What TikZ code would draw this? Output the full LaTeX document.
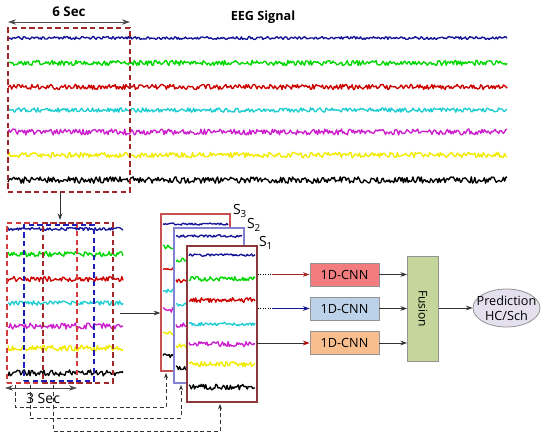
\documentclass[tikz,border=0pt]{standalone}
\usepackage{fontspec}
\setmainfont{Open Sans}
\usetikzlibrary{arrows.meta,calc,shapes.geometric}
\definecolor{eblue}{RGB}{20,20,150}
\definecolor{egreen}{RGB}{0,215,0}
\definecolor{ered}{RGB}{205,0,0}
\definecolor{ecyan}{RGB}{30,205,210}
\definecolor{emag}{RGB}{205,30,205}
\definecolor{eyel}{RGB}{240,235,0}
\definecolor{winred}{RGB}{160,40,40}
\definecolor{lred}{RGB}{210,60,60}
\definecolor{lblue}{RGB}{30,30,180}
\definecolor{sthree}{RGB}{200,80,80}
\definecolor{stwo}{RGB}{130,130,210}
\definecolor{sone}{RGB}{140,55,60}
\definecolor{cnnA}{RGB}{242,124,126}
\definecolor{cnnB}{RGB}{188,210,232}
\definecolor{cnnC}{RGB}{248,190,142}
\definecolor{fusfill}{RGB}{196,214,155}
\definecolor{predfill}{RGB}{229,224,238}
\begin{document}
\begin{tikzpicture}[x=0.75pt,y=-0.75pt,
  tr/.style={line width=1pt, line join=round},
  arr/.style={-{Stealth[length=5pt,width=3.5pt]}, line width=0.6pt, black!80},
  dbl/.style={{Stealth[length=6pt,width=4pt]}-{Stealth[length=6pt,width=4pt]}, line width=0.5pt, black!70},
  cnnbox/.style={draw=gray!85, line width=0.6pt, minimum width=51.75pt, minimum height=17.25pt, inner sep=0pt, font=\fontsize{9.5}{11}\selectfont},
  dashconn/.style={dash pattern=on 3pt off 2pt, line width=0.6pt, gray!40!black},
  winbox/.style={dash pattern=on 4pt off 2.5pt, line width=0.9pt},
  sbox/.style={fill=white, line width=0.9pt, inner sep=0pt},
  slabel/.style={font=\fontsize{10.5}{12}\selectfont, inner sep=0pt}]
\useasboundingbox (0,0) rectangle (550,437);
\pgfmathsetseed{4711}
% ---------------- full EEG signal
\foreach \c/\yy/\a in {eblue/38/1.5, egreen/63/2.6, ered/87/2.6, ecyan/110/2.2, emag/132/3.0, eyel/155/2.8, black/180/3.2}{
  \draw[\c,tr] plot[domain=8:507, samples=420] (\x,{\yy+\a*rand});
}
\node[font=\bfseries\fontsize{9.5}{12}\selectfont] (eeg) at (263,17) {EEG Signal};
\node[draw=winred, winbox, minimum width=91.5pt, minimum height=123pt, inner sep=0pt] (win6) at (69,110) {};
\coordinate (sixL) at (8,22);
\coordinate (sixR) at (130,22);
\draw[dbl] (sixL) -- (sixR);
\node[font=\bfseries\fontsize{10}{12}\selectfont] (six) at (69,12) {6 Sec};
\coordinate (dn) at (60,193);
\coordinate (dnE) at (60,220);
\draw[arr] (dn) -- (dnE);
% ---------------- 6 s segment with 3 s windows
\foreach \c/\yy/\a in {eblue/229/1.5, egreen/254/2.6, ered/279/2.6, ecyan/303/2.2, emag/326/3.0, eyel/348/2.8, black/373/3.2}{
  \draw[\c,tr] plot[domain=8:123, samples=100] (\x,{\yy+\a*rand});
}
\node[draw=lred, winbox, minimum width=52.5pt, minimum height=120pt, inner sep=0pt] (w1) at (42,303) {};
\node[draw=lblue, winbox, minimum width=52.5pt, minimum height=117pt, inner sep=0pt] (w2) at (59,303) {};
\node[draw=winred, winbox, minimum width=52.5pt, minimum height=120pt, inner sep=0pt] (w3) at (78,303) {};
\coordinate (thrL) at (5,388);
\coordinate (thrR) at (77,388);
\draw[dbl] (thrL) -- (thrR);
\node[font=\fontsize{10.5}{12}\selectfont] (three) at (43,398) {3 Sec};
% ---------------- stacked segments
\node[draw=sthree, sbox, minimum width=51.75pt, minimum height=117.75pt] (s3) at (195.5,292.5) {};
\foreach \c/\yy/\a in {eblue/224/1.2, egreen/247/2.0, ered/269/2.0, ecyan/291/1.8, emag/310/2.4, eyel/333/2.2, black/356/2.4}{
  \draw[\c,tr] plot[domain=163:228, samples=55] (\x,{\yy+\a*rand});
}
\node[draw=stwo, sbox, minimum width=52.5pt, minimum height=116.25pt] (s2) at (209,305.5) {};
\foreach \c/\yy/\a in {eblue/236/1.2, egreen/260/2.0, ered/281/2.0, ecyan/305/1.8, emag/325/2.4, eyel/346/2.2, black/368/2.4}{
  \draw[\c,tr] plot[domain=176:242, samples=55] (\x,{\yy+\a*rand});
}
\node[draw=sone, sbox, minimum width=52.5pt, minimum height=117pt] (s1) at (222,324) {};
\foreach \c/\yy/\a in {eblue/255/1.2, egreen/279/2.4, ered/300/2.4, ecyan/324/1.8, emag/344/2.6, eyel/364/2.8, black/387/2.8}{
  \draw[\c,tr] plot[domain=189:255, samples=60] (\x,{\yy+\a*rand});
}
\node[slabel] (l3) at (240,211) {S\textsubscript{3}};
\node[slabel] (l2) at (254,225) {S\textsubscript{2}};
\node[slabel] (l1) at (266,243) {S\textsubscript{1}};
\coordinate (pl) at (120,313);
\draw[arr] (pl) -- (s3.west |- pl);
% ---------------- dashed feedback connectors
\coordinate (a1) at (15,385);
\coordinate (e1) at (166,373);
\coordinate (a2) at (30,385);
\coordinate (e2) at (181,385);
\coordinate (a3) at (53,385);
\coordinate (e3) at (220,404);
\draw[dashconn, -{Stealth[length=4pt,width=3pt]}] (a1) -- ++(0,22) -| (e1);
\draw[dashconn, -{Stealth[length=4pt,width=3pt]}] (a2) -- ++(0,33) -| (e2);
\draw[dashconn, -{Stealth[length=4pt,width=3pt]}] (a3) -- ++(0,46) -| (e3);
% ---------------- CNN branches
\node[cnnbox, fill=cnnA] (c1) at (344.5,274.5) {1D-CNN};
\node[cnnbox, fill=cnnB] (c2) at (344.5,308.5) {1D-CNN};
\node[cnnbox, fill=cnnC] (c3) at (344.5,343) {1D-CNN};
\coordinate (r1) at (258,274.5);
\coordinate (r1b) at (272,274.5);
\coordinate (r2) at (258,308.5);
\coordinate (r2b) at (272,308.5);
\coordinate (r3) at (257,343);
\draw[densely dotted, line width=0.8pt] (r1) -- (r1b);
\draw[densely dotted, line width=0.8pt] (r2) -- (r2b);
\draw[arr, winred, -{Stealth[length=5pt,width=3.5pt,fill=red!80!black]}] (r1b) -- (c1.west);
\draw[arr, eblue, -{Stealth[length=5pt,width=3.5pt]}] (r2b) -- (c2.west);
\draw[line width=0.6pt, black!80, -{Stealth[length=5pt,width=3.5pt,color=red!70!black]}] (r3) -- (c3.west);
\node[draw=gray!85, fill=fusfill, line width=0.6pt, minimum width=23.25pt, minimum height=78.75pt, inner sep=0pt] (fus) at (423,308.5) {};
\node[rotate=-90, font=\fontsize{9}{11}\selectfont] (fust) at (fus.center) {Fusion};
\draw[arr] (c1.east) -- (c1.east -| fus.west);
\draw[arr] (c2.east) -- (c2.east -| fus.west);
\draw[arr] (c3.east) -- (c3.east -| fus.west);
\node[ellipse, draw=gray!85, fill=predfill, line width=0.6pt, minimum width=50.25pt, minimum height=28.5pt, inner sep=-6pt, align=center, font=\fontsize{9.5}{11.5}\selectfont] (pred) at (506.5,308) {Prediction\\HC/Sch};
\draw[arr] (fus.east |- pred.west) -- (pred.west);
\end{tikzpicture}
\end{document}
